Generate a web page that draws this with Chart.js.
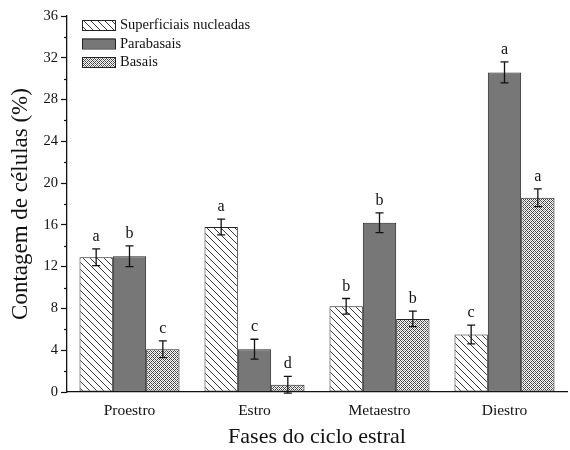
<!DOCTYPE html>
<html>
<head>
<meta charset="utf-8">
<script src="https://cdn.jsdelivr.net/npm/chart.js@4/dist/chart.umd.min.js"></script>
<style>
  html, body { margin: 0; padding: 0; background: #fff; }
  #wrap { width: 570px; height: 450px; }
</style>
</head>
<body>
<div id="wrap"><canvas id="chart" width="570" height="450"></canvas></div>
<script>
// data
const phases = ['Proestro', 'Estro', 'Metaestro', 'Diestro'];
const seriesNames = ['Superficiais nucleadas', 'Parabasais', 'Basais'];

const superficiais = [12.9, 15.8, 8.2, 5.5];
const parabasais = [13.0, 4.1, 16.2, 30.6];
const basais = [4.1, 0.7, 7.0, 18.6];

const errSuperficiais = [0.8, 0.75, 0.75, 0.9];
const errParabasais = [1.0, 0.95, 0.95, 1.0];
const errBasais = [0.8, 0.8, 0.75, 0.85];

const lettersSuperficiais = ['a', 'a', 'b', 'c'];
const lettersParabasais = ['b', 'c', 'b', 'a'];
const lettersBasais = ['c', 'd', 'b', 'a'];

const yTicks = [0, 4, 8, 12, 16, 20, 24, 28, 32, 36];

const serif = '"Liberation Serif", "DejaVu Serif", serif';

// fill patterns
function hatchPattern() {
  const c = document.createElement('canvas');
  c.width = 7; c.height = 7;
  const g = c.getContext('2d');
  g.fillStyle = '#fff';
  g.fillRect(0, 0, 7, 7);
  g.strokeStyle = '#222';
  g.lineWidth = 0.9;
  g.beginPath();
  g.moveTo(-1, -1); g.lineTo(8, 8);
  g.moveTo(-1, 6); g.lineTo(1, 8);
  g.moveTo(6, -1); g.lineTo(8, 1);
  g.stroke();
  return g.createPattern(c, 'repeat');
}

function crossPattern() {
  const c = document.createElement('canvas');
  c.width = 4; c.height = 4;
  const g = c.getContext('2d');
  g.fillStyle = '#fff';
  g.fillRect(0, 0, 4, 4);
  g.fillStyle = '#444';
  g.fillRect(0, 0, 1, 1);
  g.fillRect(2, 2, 1, 1);
  g.fillRect(1, 1, 1, 1);
  g.fillRect(3, 3, 1, 1);
  g.fillRect(3, 1, 1, 1);
  g.fillRect(1, 3, 1, 1);
  g.fillStyle = '#aaa';
  g.fillRect(2, 0, 1, 1);
  g.fillRect(0, 2, 1, 1);
  return g.createPattern(c, 'repeat');
}

const errors = [errSuperficiais, errParabasais, errBasais];
const letters = [lettersSuperficiais, lettersParabasais, lettersBasais];

// error bars + significance letters
const errorBarPlugin = {
  id: 'errorBars',
  afterDatasetsDraw(chart) {
    const ctx = chart.ctx;
    const y = chart.scales.y;
    ctx.save();
    ctx.strokeStyle = '#111';
    ctx.lineWidth = 1.3;
    ctx.fillStyle = '#111';
    ctx.font = '16px ' + serif;
    ctx.textAlign = 'center';
    ctx.textBaseline = 'alphabetic';
    chart.data.datasets.forEach((ds, di) => {
      chart.getDatasetMeta(di).data.forEach((bar, i) => {
        const v = ds.data[i];
        const e = errors[di][i];
        const x = bar.x;
        const top = y.getPixelForValue(v + e);
        const bot = y.getPixelForValue(v - e);
        ctx.beginPath();
        ctx.moveTo(x, top); ctx.lineTo(x, bot);
        ctx.moveTo(x - 4, top); ctx.lineTo(x + 4, top);
        ctx.moveTo(x - 4, bot); ctx.lineTo(x + 4, bot);
        ctx.stroke();
        ctx.fillText(letters[di][i], x, top - 8);
      });
    });
    ctx.restore();
  }
};

// minor ticks on the y axis
const minorTicks = {
  id: 'minorTicks',
  afterDraw(chart) {
    const ctx = chart.ctx;
    const y = chart.scales.y;
    const left = chart.chartArea.left;
    ctx.save();
    ctx.strokeStyle = '#111';
    ctx.lineWidth = 1.2;
    for (let i = 0; i < yTicks.length - 1; i++) {
      const py = Math.round(y.getPixelForValue((yTicks[i] + yTicks[i + 1]) / 2)) + 0.5;
      ctx.beginPath();
      ctx.moveTo(left - 3, py); ctx.lineTo(left, py);
      ctx.stroke();
    }
    ctx.restore();
  }
};

new Chart(document.getElementById('chart'), {
  type: 'bar',
  data: {
    labels: phases,
    datasets: [
      { label: seriesNames[0], data: superficiais, backgroundColor: hatchPattern() },
      { label: seriesNames[1], data: parabasais, backgroundColor: '#777777' },
      { label: seriesNames[2], data: basais, backgroundColor: crossPattern() }
    ]
  },
  options: {
    responsive: false,
    animation: false,
    layout: { padding: { top: 16, right: 3, left: 0, bottom: 0 } },
    datasets: {
      bar: {
        borderColor: '#222',
        borderWidth: 1,
        borderSkipped: false,
        categoryPercentage: 0.8,
        barPercentage: 1.0
      }
    },
    plugins: {
      legend: { display: false },
      tooltip: { enabled: false }
    },
    scales: {
      x: {
        grid: { display: false, drawTicks: false },
        border: { color: '#111', width: 1.3 },
        ticks: { color: '#111', font: { family: serif, size: 15.5 }, padding: 10 },
        title: {
          display: true, text: 'Fases do ciclo estral', color: '#111',
          font: { family: serif, size: 22 }, padding: { top: 0, bottom: 0 }
        },
        afterFit(s) { s.height = 58; }
      },
      y: {
        min: 0, max: 36,
        afterBuildTicks(s) { s.ticks = yTicks.map(v => ({ value: v })); },
        grid: { drawOnChartArea: false, tickLength: 6, tickColor: '#111', tickWidth: 1.2 },
        border: { color: '#111', width: 1.3 },
        ticks: { color: '#111', font: { family: serif, size: 14.5 }, padding: 3 },
        title: {
          display: true, text: 'Contagem de células (%)', color: '#111',
          font: { family: serif, size: 23 }, padding: { top: 7, bottom: 4 }
        },
        afterFit(s) { s.width = 67; }
      }
    }
  },
  plugins: [errorBarPlugin, minorTicks, {
    id: 'legendBox',
    afterDraw(chart) {
      const ctx = chart.ctx;
      const fills = chart.data.datasets.map(d => d.backgroundColor);
      ctx.save();
      ctx.font = '14.5px ' + serif;
      ctx.textBaseline = 'middle';
      ctx.fillStyle = '#111';
      seriesNames.forEach((name, i) => {
        const bx = 82, by = 20 + i * 18.5;
        ctx.fillStyle = fills[i];
        ctx.fillRect(bx, by, 33, 10);
        ctx.strokeStyle = '#222';
        ctx.lineWidth = 1;
        ctx.strokeRect(bx + 0.5, by + 0.5, 33, 10);
        ctx.fillStyle = '#111';
        ctx.fillText(name, bx + 38, by + 5.5);
      });
      ctx.restore();
    }
  }]
});
</script>
</body>
</html>
